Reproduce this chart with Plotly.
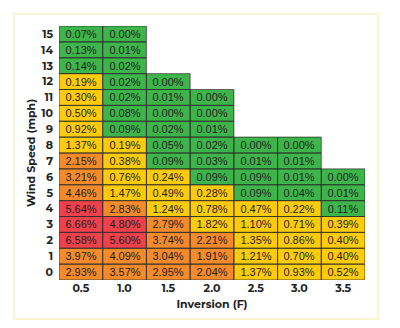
import numpy as np
import plotly.graph_objects as go

inversion = ["0.5", "1.0", "1.5", "2.0", "2.5", "3.0", "3.5"]
wind_speed = [str(i) for i in range(16)]
N = None
# values per inversion column, wind speed 0..15
col_05 = [2.93, 3.97, 6.58, 6.66, 5.64, 4.46, 3.21, 2.15, 1.37, 0.92, 0.50, 0.30, 0.19, 0.14, 0.13, 0.07]
col_10 = [3.57, 4.09, 5.60, 4.80, 2.83, 1.47, 0.76, 0.38, 0.19, 0.09, 0.08, 0.02, 0.02, 0.02, 0.01, 0.00]
col_15 = [2.95, 3.04, 3.74, 2.79, 1.24, 0.49, 0.24, 0.09, 0.05, 0.02, 0.00, 0.01, 0.00, N, N, N]
col_20 = [2.04, 1.91, 2.21, 1.82, 0.78, 0.28, 0.09, 0.03, 0.02, 0.01, 0.00, 0.00, N, N, N, N]
col_25 = [1.37, 1.21, 1.35, 1.10, 0.47, 0.09, 0.09, 0.01, 0.00, N, N, N, N, N, N, N]
col_30 = [0.93, 0.70, 0.86, 0.71, 0.22, 0.04, 0.01, 0.01, 0.00, N, N, N, N, N, N, N]
col_35 = [0.52, 0.40, 0.40, 0.39, 0.11, 0.01, 0.00, N, N, N, N, N, N, N, N, N]

cols = [col_05, col_10, col_15, col_20, col_25, col_30, col_35]
vals = np.array([[np.nan if c[r] is None else c[r] for c in cols] for r in range(16)], dtype=float)

thresholds = [0.15, 1.85, 4.5]
cat = np.where(np.isnan(vals), np.nan, np.digitize(np.nan_to_num(vals), thresholds).astype(float))
text = [["" if np.isnan(v) else f"{v:.2f}%" for v in row] for row in vals]

colors = ["#3db54a", "#fecb0a", "#f58a2b", "#ef404b"]
cs = []
for i, c in enumerate(colors):
    cs.append([i / 4, c])
    cs.append([(i + 1) / 4, c])

fig = go.Figure(go.Heatmap(
    x=inversion, y=wind_speed, z=cat, zmin=0, zmax=4, colorscale=cs, showscale=False,
    text=text, texttemplate="%{text}",
    textfont=dict(family="Liberation Sans, Arial", size=11, color="#222222"),
    hoverinfo="skip",
))

shapes = []
for r in range(16):
    for c in range(7):
        if not np.isnan(vals[r, c]):
            shapes.append(dict(type="rect", xref="x", yref="y",
                               x0=c - 0.5, x1=c + 0.5, y0=r - 0.5, y1=r + 0.5,
                               line=dict(color="rgba(45,45,45,0.75)", width=1),
                               fillcolor="rgba(0,0,0,0)", layer="above"))
# outer decorative frame
shapes.append(dict(type="rect", xref="paper", yref="paper",
                   x0=-0.147, x1=1.0425, y0=-0.1535, y1=1.047,
                   line=dict(color="#fcf3d2", width=2), fillcolor="rgba(0,0,0,0)", layer="below"))

tickfont = dict(family="Montserrat, Open Sans, Lato", size=11, color="#222222", weight="bold")
fig.update_layout(
    width=400, height=328,
    margin=dict(l=59, r=35, t=26, b=48),
    paper_bgcolor="white", plot_bgcolor="white",
    shapes=shapes,
    xaxis=dict(type="category", showgrid=False, zeroline=False, ticks="", tickfont=tickfont,
               title=dict(text="Inversion (F)", font=tickfont, standoff=6),
               range=[-0.5, 6.5]),
    yaxis=dict(type="category", showgrid=False, zeroline=False, ticks="", tickfont=tickfont,
               ticklabelstandoff=5,
               title=dict(text="Wind Speed (mph)", font=tickfont, standoff=3),
               range=[-0.5, 15.5]),
)
fig.write_html("out.html")
